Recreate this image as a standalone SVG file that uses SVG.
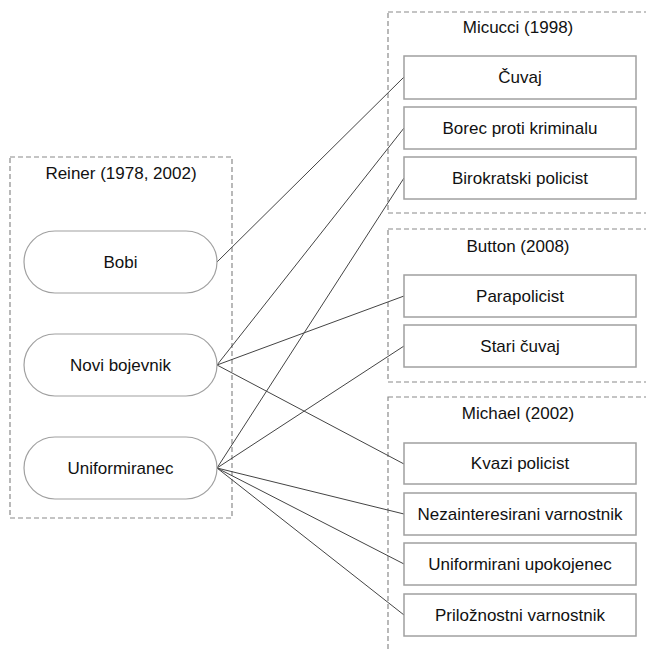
<svg xmlns="http://www.w3.org/2000/svg" width="646" height="651" viewBox="0 0 646 651">
<style>
text{font-family:"Liberation Sans",Arial,sans-serif;font-size:17px;fill:#111;text-anchor:middle;dominant-baseline:central}
.grp{fill:none;stroke:#8a8a8a;stroke-width:1.2;stroke-dasharray:5,3}
.pill{fill:#fff;stroke:#a0a0a0;stroke-width:1.2}
.box{fill:#fff;stroke:#a0a0a0;stroke-width:1.5}
.c{stroke:#444;stroke-width:1;fill:none}
</style>
<rect width="646" height="651" fill="#fff"/>
<g id="reiner">
<rect class="grp" x="10" y="157" width="222" height="361"/>
<text x="121" y="173">Reiner (1978, 2002)</text>
</g>
<g id="micucci">
<rect class="grp" x="388" y="12" width="262" height="201"/>
<text x="518" y="27">Micucci (1998)</text>
</g>
<g id="button">
<rect class="grp" x="388" y="229" width="262" height="153"/>
<text x="518" y="246">Button (2008)</text>
</g>
<g id="michael">
<rect class="grp" x="388" y="397" width="262" height="260"/>
<text x="518" y="413">Michael (2002)</text>
</g>
<g id="connectors">
<line class="c" x1="217" y1="262" x2="404" y2="77"/>
<line class="c" x1="217" y1="365" x2="404" y2="128"/>
<line class="c" x1="217" y1="365" x2="404" y2="296"/>
<line class="c" x1="217" y1="365" x2="404" y2="464"/>
<line class="c" x1="217" y1="468" x2="404" y2="178"/>
<line class="c" x1="217" y1="468" x2="404" y2="346"/>
<line class="c" x1="217" y1="468" x2="404" y2="514"/>
<line class="c" x1="217" y1="468" x2="404" y2="564"/>
<line class="c" x1="217" y1="468" x2="404" y2="615"/>
</g>
<g id="bobi"><rect class="pill" x="24" y="231" width="193" height="62" rx="31"/><text x="120.5" y="262">Bobi</text></g>
<g id="novi-bojevnik"><rect class="pill" x="24" y="334" width="193" height="62" rx="31"/><text x="120.5" y="365">Novi bojevnik</text></g>
<g id="uniformiranec"><rect class="pill" x="24" y="437" width="193" height="62" rx="31"/><text x="120.5" y="468">Uniformiranec</text></g>
<g id="cuvaj"><rect class="box" x="404" y="56" width="232" height="43"/><text x="520" y="77.5">Čuvaj</text></g>
<g id="borec"><rect class="box" x="404" y="107" width="232" height="42"/><text x="520" y="128">Borec proti kriminalu</text></g>
<g id="birokratski"><rect class="box" x="404" y="157" width="232" height="42"/><text x="520" y="178">Birokratski policist</text></g>
<g id="parapolicist"><rect class="box" x="404" y="275" width="232" height="42"/><text x="520" y="296">Parapolicist</text></g>
<g id="stari-cuvaj"><rect class="box" x="404" y="325" width="232" height="42"/><text x="520" y="346">Stari čuvaj</text></g>
<g id="kvazi"><rect class="box" x="404" y="443" width="232" height="41"/><text x="520" y="463.5">Kvazi policist</text></g>
<g id="nezainteresirani"><rect class="box" x="404" y="493" width="232" height="42"/><text x="520" y="514">Nezainteresirani varnostnik</text></g>
<g id="upokojenec"><rect class="box" x="404" y="543" width="232" height="42"/><text x="520" y="564">Uniformirani upokojenec</text></g>
<g id="priloznostni"><rect class="box" x="404" y="594" width="232" height="42"/><text x="520" y="615">Priložnostni varnostnik</text></g>
</svg>
